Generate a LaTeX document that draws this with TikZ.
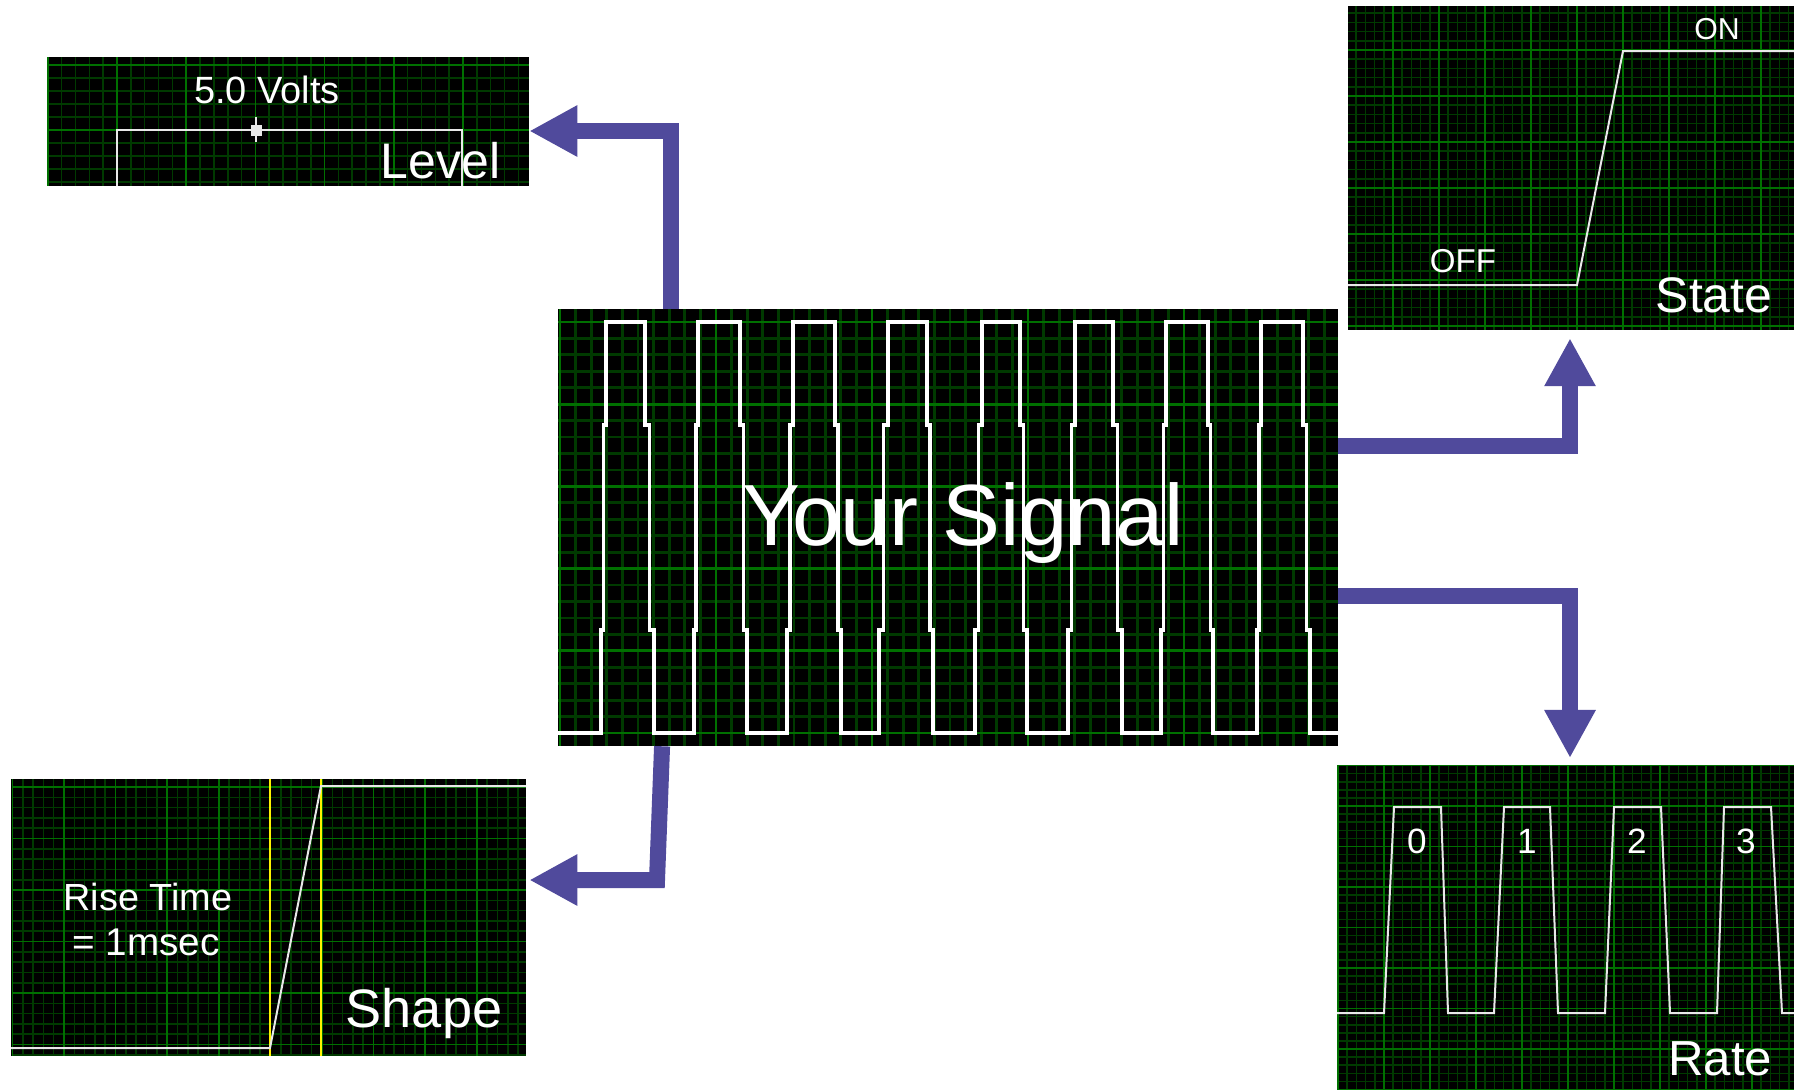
\documentclass[tikz,border=0pt]{standalone}
\usepackage{fontspec}
\setmainfont{Liberation Sans}
\usetikzlibrary{arrows.meta}
\definecolor{gridminor}{RGB}{0,58,0}
\definecolor{gridmajor}{RGB}{0,112,0}
\definecolor{arrowblue}{RGB}{80,74,156}
\definecolor{tracegray}{RGB}{232,232,232}

\begin{document}
\begin{tikzpicture}[x=0.01cm, y=-0.01cm,
  panel/.style={fill=black, inner sep=0pt, outer sep=0pt, anchor=north west},
  minorline/.style={draw=gridminor},
  majorline/.style={draw=gridmajor},
  trace/.style={draw=tracegray, line width=0.02cm},
  lbl/.style={text=white, inner sep=0pt, anchor=base},
  conn/.style={draw=arrowblue, line width=0.16cm,
               -{Triangle[length=0.48cm, width=0.48cm]}}]
\useasboundingbox (0,0) rectangle (1794,1090);
\fill[white] (0,0) rectangle (1794,1090);

\node[panel, minimum width=4.82cm, minimum height=1.29cm] (level) at (47,57) {};
\node[panel, minimum width=4.46cm, minimum height=3.24cm] (state) at (1348,6) {};
\node[panel, minimum width=7.80cm, minimum height=4.37cm] (main)  at (558,309) {};
\node[panel, minimum width=5.15cm, minimum height=2.77cm] (shape) at (11,779) {};
\node[panel, minimum width=4.57cm, minimum height=3.25cm] (rate)  at (1337,765) {};

\foreach \p/\w/\ox/\oy/\ex/\ey/\dx/\dy/\nx/\ny in {
    level/0.016cm/47.8/0/529/186/13.84/13/5/5,
    state/0.016cm/1347/4/1794/330/9.2/9.2/5/5,
    main/0.028cm/404/239.8/1338/746/15.6/16.44/10/5,
    shape/0.016cm/12.4/735.5/526/1056/10.32/10.3/5/5,
    rate/0.016cm/1338/725/1794/1090/9.2/8.1/5/5}{
  \begin{scope}[line width=\w]
    \clip (\p.north west) rectangle (\p.south east);
    \pgfmathtruncatemacro\ci{(\ex-\ox)/\dx}
    \pgfmathtruncatemacro\cj{(\ey-\oy)/\dy}
    \foreach \i in {0,...,\ci} \draw[minorline] ({\ox+\i*\dx},\oy) -- ({\ox+\i*\dx},\ey);
    \foreach \j in {0,...,\cj} \draw[minorline] (\ox,{\oy+\j*\dy}) -- (\ex,{\oy+\j*\dy});
    \foreach \i in {0,...,\ci}{
      \pgfmathtruncatemacro\m{mod(\i,\nx)}
      \ifnum\m=0 \draw[majorline] ({\ox+\i*\dx},\oy) -- ({\ox+\i*\dx},\ey);\fi}
    \foreach \j in {0,...,\cj}{
      \pgfmathtruncatemacro\m{mod(\j,\ny)}
      \ifnum\m=0 \draw[majorline] (\ox,{\oy+\j*\dy}) -- (\ex,{\oy+\j*\dy});\fi}
  \end{scope}}

\draw[trace, draw=white, line width=0.035cm] (558,733)
  \foreach \a/\b/\c/\d in {601/606/645/654, 694/698/740/747, 787/793/835/841,
      879/888/927/933, 975/982/1020/1027, 1068/1075/1113/1122,
      1161/1166/1208/1213, 1257/1261/1303/1310}
  { -- (\a,733) -- (\a,630) -- ({(\a+\b)/2},630) -- ({(\a+\b)/2},425) -- (\b,425) -- (\b,322)
    -- (\c,322) -- (\c,425) -- ({(\c+\d)/2},425) -- ({(\c+\d)/2},630) -- (\d,630) -- (\d,733) }
  -- (1338,733);
\draw[trace] (117,186) -- (117,130) -- (462,130) -- (462,186);
\fill[tracegray] (251,125) rectangle (262,136);
\draw[trace] (256,117) -- (256,142);
\draw[trace] (1348,285) -- (1577,285) -- (1623,51) -- (1794,51);
\draw[yellow, line width=0.02cm] (270,779) -- (270,1056) (321,779) -- (321,1056);
\draw[trace] (11,1048) -- (270,1048) -- (321,786) -- (526,786);
\draw[trace] (1337,1013)
  \foreach \a/\b/\c/\d in {1384/1394/1441/1448, 1494/1504/1550/1558,
      1605/1614/1661/1670, 1717/1724/1771/1782}
  { -- (\a,1013) -- (\b,807) -- (\c,807) -- (\d,1013) }
  -- (1794,1013);

\node[lbl, font=\fontsize{24.7pt}{25pt}\selectfont] (sigtxt) at (963,545) {Your Signal};
\node[lbl, font=\fontsize{10.8pt}{11pt}\selectfont] (volttxt) at (267,103) {5.0 Volts};
\node[lbl, anchor=base east, font=\fontsize{14.2pt}{15pt}\selectfont] (lvltxt) at (501,178) {Level};
\node[lbl, font=\fontsize{8.6pt}{9pt}\selectfont] (ontxt) at (1717,39) {ON};
\node[lbl, font=\fontsize{9.4pt}{10pt}\selectfont] (offtxt) at (1463,272) {OFF};
\node[lbl, anchor=base east, font=\fontsize{14.2pt}{15pt}\selectfont] (statetxt) at (1773,312) {State};
\node[lbl, font=\fontsize{10.75pt}{11pt}\selectfont] (risetxt) at (148,910) {Rise Time};
\node[lbl, font=\fontsize{11pt}{12pt}\selectfont] (msectxt) at (146,955) {= 1msec};
\node[lbl, anchor=base east, font=\fontsize{15.4pt}{16pt}\selectfont] (shapetxt) at (503,1027) {Shape};
\foreach \n/\x in {0/1417, 1/1527, 2/1637, 3/1746}
  \node[lbl, font=\fontsize{10pt}{11pt}\selectfont] (bit\n) at (\x,853) {\n};
\node[lbl, anchor=base east, font=\fontsize{14pt}{15pt}\selectfont] (ratetxt) at (1773,1075) {Rate};

\coordinate (lvlbend) at (671,131);
\coordinate (statebend) at (1570,446);
\coordinate (ratebend) at (1570,596);
\coordinate (shapebend) at (657,880);
\draw[conn] (main.north -| lvlbend) -- (lvlbend) -- (level.east |- lvlbend);
\draw[conn, shorten >=0.08cm] (main.east |- statebend) -- (statebend) -- (state.south -| statebend);
\draw[conn, shorten >=0.07cm] (main.east |- ratebend) -- (ratebend) -- (rate.north -| ratebend);
\draw[conn, shorten >=0.03cm] ([xshift=1.04cm]main.south west) -- (shapebend) -- (shape.east |- shapebend);
\end{tikzpicture}
\end{document}
